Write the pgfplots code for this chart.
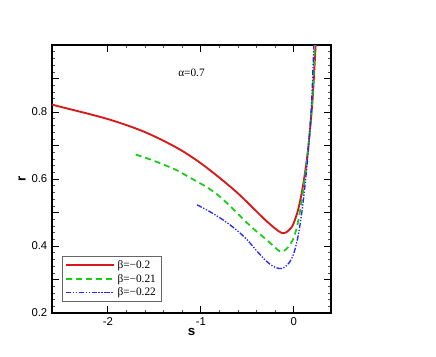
\documentclass[border=0pt]{standalone}
\usepackage{fontspec}
\setmainfont{Liberation Sans}
\newfontfamily\tnr{Liberation Serif}
\usepackage{pgfplots}
\pgfplotsset{compat=1.18}

\definecolor{cRed}{RGB}{215,25,25}
\definecolor{cGreen}{RGB}{20,205,20}
\definecolor{cBlue}{RGB}{40,40,245}

\begin{document}
\begin{tikzpicture}[x=1pt,y=1pt]
\path[use as bounding box] (-39,-33) rectangle (288,234.75);
\begin{axis}[
    at={(0,0)}, anchor=south west,
    scale only axis,
    width=209.25pt, height=201pt,
    xmin=-2.6, xmax=0.4,
    ymin=0.2, ymax=1.0,
    xtick={-2,-1,0},
    minor x tick num=4,
    ytick={0.2,0.3,...,1.01},
    yticklabels={0.2,,0.4,,0.6,,0.8,,},
    minor y tick num=4,
    tick align=inside,
    major tick length=5pt,
    minor tick length=2.5pt,
    every tick/.style={black, line width=0.6pt},
    every minor tick/.style={black!70, line width=0.4pt},
    axis line style={line width=1pt},
    /pgf/number format/assume math mode=true,
    tick label style={font=\fontsize{8.5}{9}\selectfont},
    xlabel={\textbf{s}},
    ylabel={\textbf{r}},
    label style={font=\fontsize{10}{11}\selectfont},
    xlabel style={at={(axis description cs:0.5,-0.07)}, anchor=center},
    ylabel style={at={(axis description cs:-0.1075,0.5)}, anchor=center},
    legend style={
        at={(0.036,0.041)}, anchor=south west,
        draw=black!60,
        font=\tnr\fontsize{8.5}{9.5}\selectfont,
        inner xsep=2pt, inner ysep=1pt,
        row sep=-1.2pt,
        cells={anchor=west},
    },
    legend image code/.code={\draw[#1] (0pt,0pt) -- (36pt,0pt);},
    legend cell align=left,
]
\addplot[cRed, line width=1.4pt, smooth] coordinates {
(-2.6,0.822) (-2.4,0.808) (-2.2,0.794) (-2.0,0.779) (-1.8,0.761) (-1.6,0.740)
(-1.4,0.714) (-1.2,0.684) (-1.0,0.647) (-0.8,0.604) (-0.6,0.557) (-0.4,0.503)
(-0.3,0.476) (-0.2,0.452) (-0.13,0.439) (-0.08,0.441) (-0.03,0.454) (0,0.469)
(0.05,0.512) (0.1,0.582) (0.15,0.680) (0.2,0.830) (0.235,1.0)
};
\addlegendentry{β=−0.2}
\addplot[cGreen, line width=1.3pt, smooth, dash pattern=on 4.5pt off 3pt] coordinates {
(-1.70,0.673) (-1.55,0.659) (-1.4,0.643) (-1.25,0.625) (-1.11,0.603) (-0.95,0.578)
(-0.82,0.553) (-0.68,0.518) (-0.54,0.479) (-0.42,0.448) (-0.29,0.418) (-0.2,0.395)
(-0.15,0.384) (-0.11,0.385) (-0.06,0.397) (0,0.425) (0.05,0.478) (0.1,0.565)
(0.15,0.677) (0.2,0.84) (0.225,1.0)
};
\addlegendentry{β=−0.21}
\addplot[cBlue, line width=1pt, smooth, dash pattern=on 4pt off 1.2pt on 1pt off 1.2pt on 1pt off 1.2pt] coordinates {
(-1.04,0.523) (-0.9,0.502) (-0.8,0.485) (-0.7,0.466) (-0.6,0.444) (-0.5,0.418)
(-0.4,0.386) (-0.3,0.356) (-0.22,0.339) (-0.16,0.333) (-0.11,0.335) (-0.05,0.350)
(0,0.378) (0.05,0.435) (0.1,0.530) (0.15,0.665) (0.19,0.82) (0.215,1.0)
};
\addlegendentry{β=−0.22}
\node[font=\tnr\fontsize{8.5}{9.5}\selectfont] at (axis cs:-1.1,0.918) {α=0.7};
\end{axis}
\end{tikzpicture}
\end{document}
